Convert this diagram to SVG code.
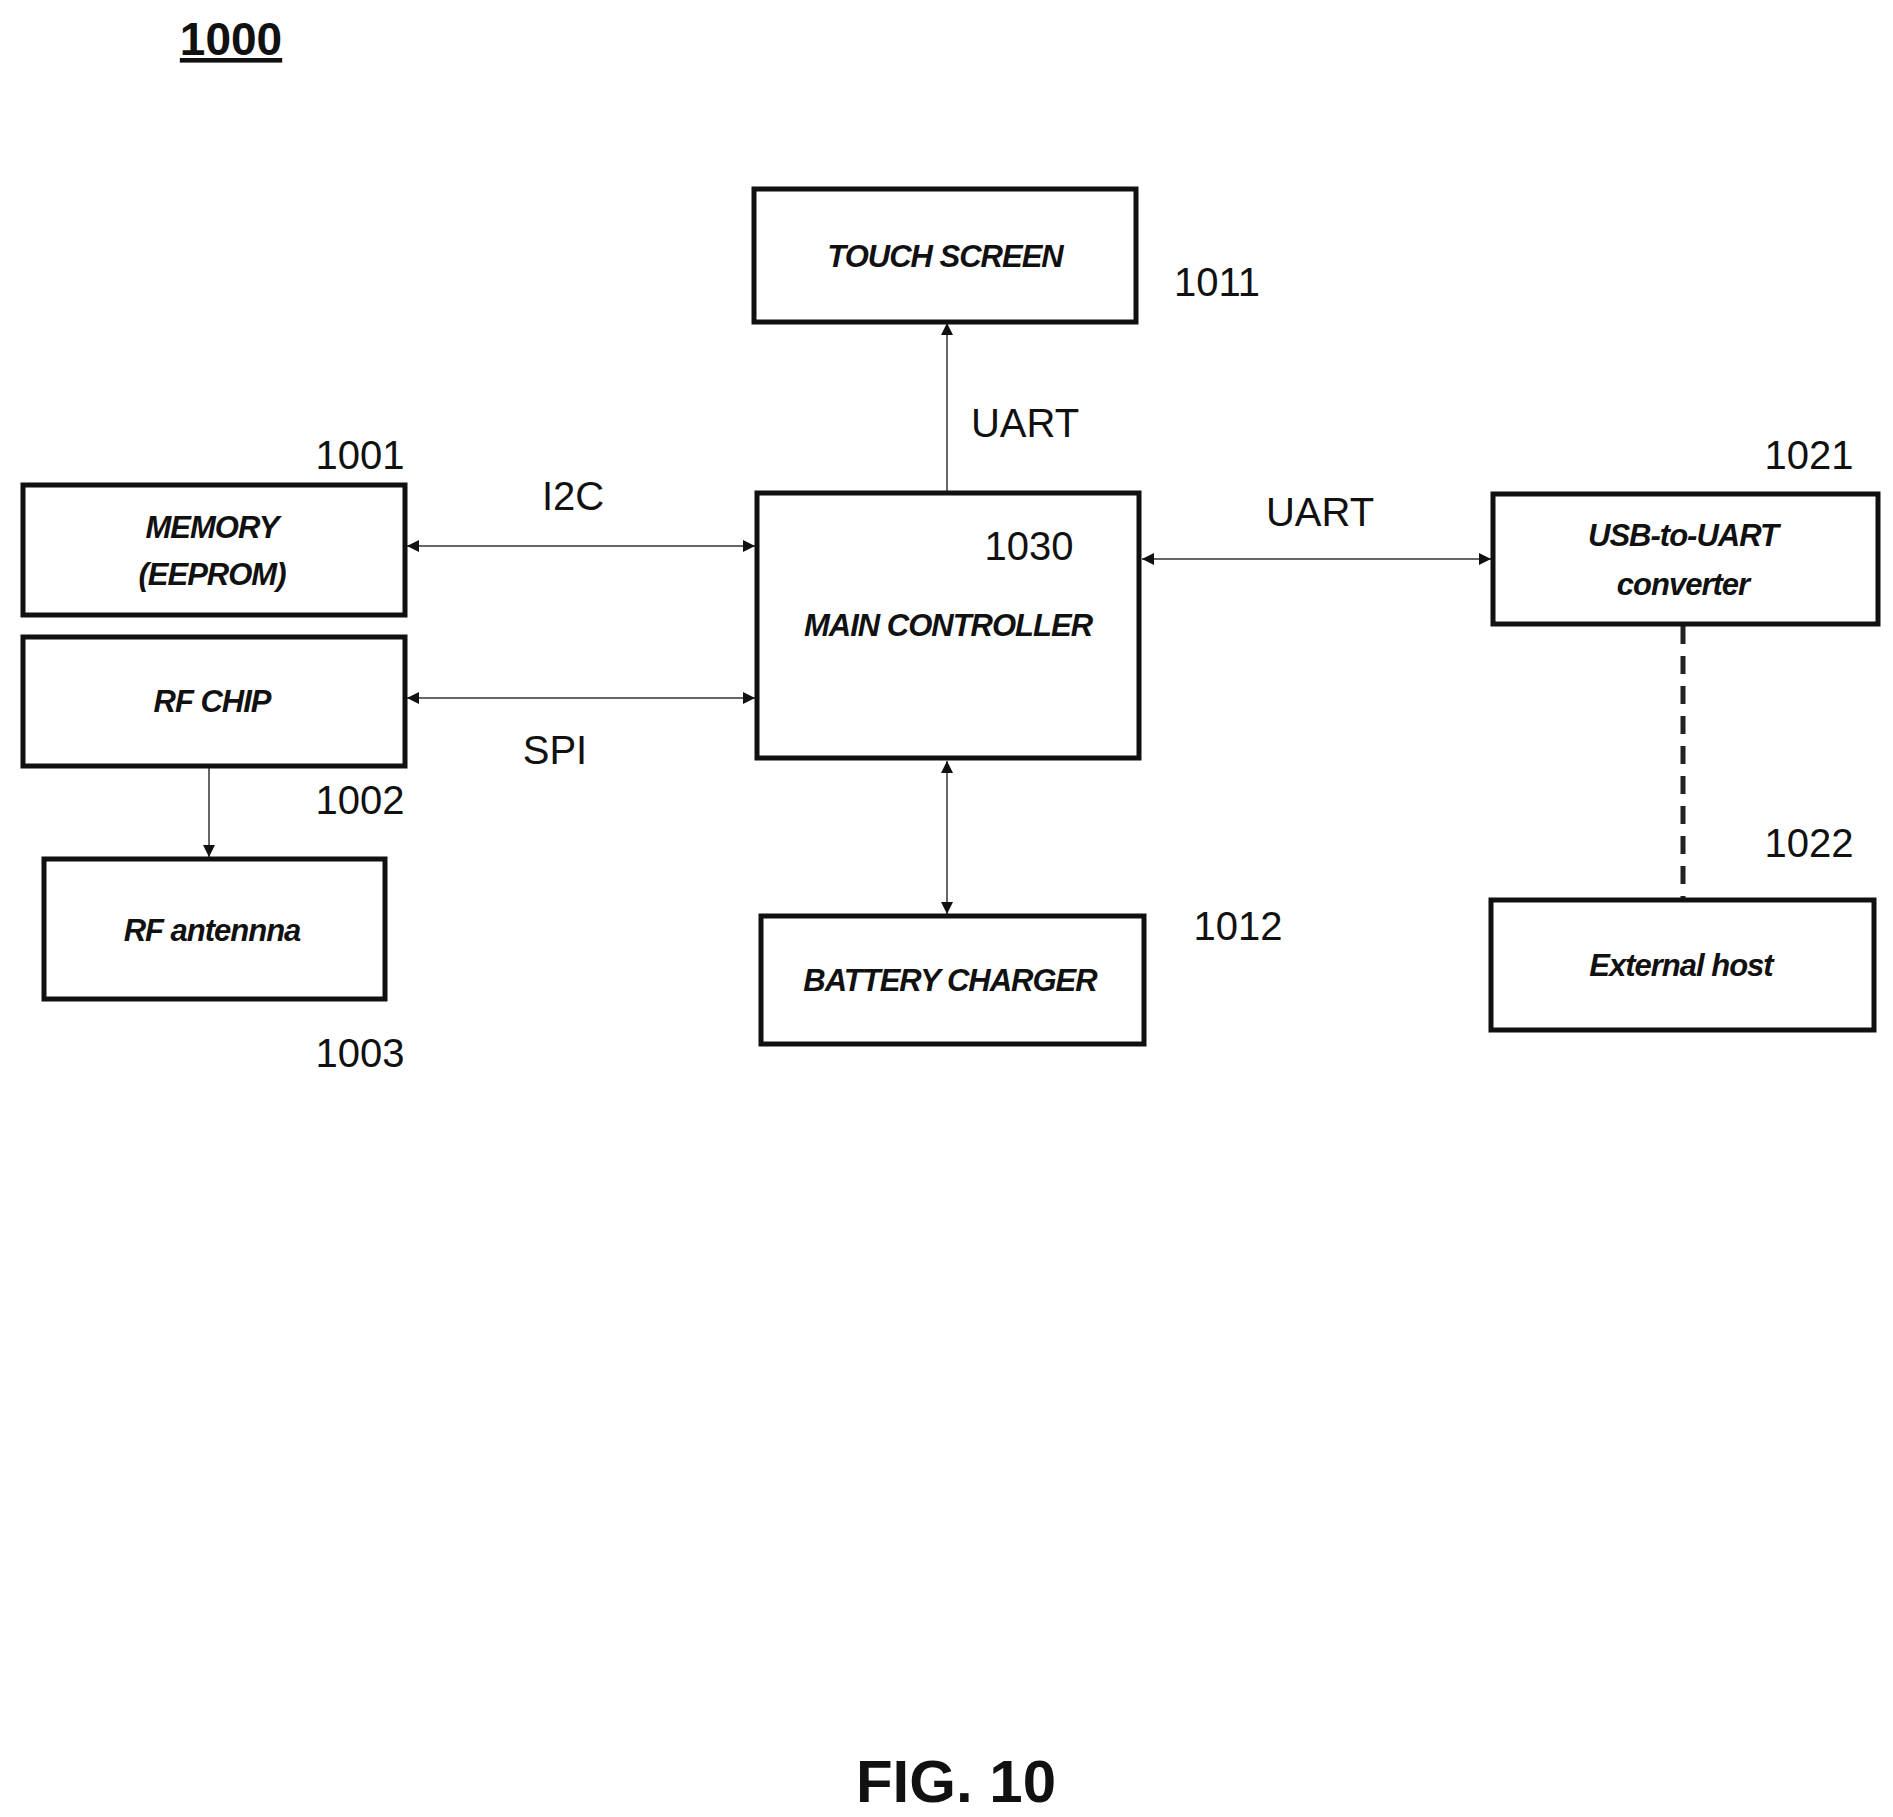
<svg xmlns="http://www.w3.org/2000/svg" width="1893" height="1817" viewBox="0 0 1893 1817">
<style>
.box{fill:#fff;stroke:#111;stroke-width:5}
.t{font-family:"Liberation Sans",Arial,sans-serif;font-weight:bold;font-style:italic;font-size:31px;text-anchor:middle;fill:#111;letter-spacing:-1px}
.n{font-family:"Liberation Sans",Arial,sans-serif;font-size:40px;text-anchor:middle;fill:#111}
.c{stroke:#333;stroke-width:1.5;fill:none}
</style>
<defs>
<marker id="a" viewBox="0 0 10 10" refX="10" refY="5" markerWidth="12" markerHeight="12" markerUnits="userSpaceOnUse" orient="auto-start-reverse"><path d="M0,0L10,5L0,10z" fill="#111"/></marker>
</defs>
<rect width="1893" height="1817" fill="#fff"/>
<text x="231" y="55" style="font-family:'Liberation Sans',Arial,sans-serif;font-weight:bold;font-size:46px;text-anchor:middle;text-decoration:underline" fill="#111">1000</text>
<g id="connectors">
<line class="c" x1="947" y1="491" x2="947" y2="323" marker-end="url(#a)"/>
<line class="c" x1="407" y1="546" x2="755" y2="546" marker-start="url(#a)" marker-end="url(#a)"/>
<line class="c" x1="407" y1="698" x2="755" y2="698" marker-start="url(#a)" marker-end="url(#a)"/>
<line class="c" x1="209" y1="766" x2="209" y2="857" marker-end="url(#a)"/>
<line class="c" x1="947" y1="761" x2="947" y2="914" marker-start="url(#a)" marker-end="url(#a)"/>
<line class="c" x1="1142" y1="559" x2="1491" y2="559" marker-start="url(#a)" marker-end="url(#a)"/>
<line x1="1683" y1="626" x2="1683" y2="900" stroke="#222" stroke-width="5" stroke-dasharray="18,12"/>
<text class="n" x="1025" y="437" font-size="44">UART</text>
<text class="n" x="573" y="510">I2C</text>
<text class="n" x="555" y="764">SPI</text>
<text class="n" x="1320" y="526" font-size="44">UART</text>
</g>
<g id="touch"><rect class="box" x="754" y="189" width="382" height="133"/><text class="t" x="945" y="267">TOUCH SCREEN</text><text class="n" x="1217" y="296">1011</text></g>
<g id="main"><rect class="box" x="757" y="493" width="382" height="265"/><text class="n" x="1029" y="560">1030</text><text class="t" x="948" y="636">MAIN CONTROLLER</text></g>
<g id="memory"><rect class="box" x="23" y="485" width="382" height="130"/><text class="t" x="212" y="538">MEMORY</text><text class="t" x="212" y="585">(EEPROM)</text><text class="n" x="360" y="469">1001</text></g>
<g id="rfchip"><rect class="box" x="23" y="637" width="382" height="129"/><text class="t" x="212" y="712">RF CHIP</text><text class="n" x="360" y="814">1002</text></g>
<g id="antenna"><rect class="box" x="44" y="859" width="341" height="140"/><text class="t" x="212" y="941" font-style="normal">RF antennna</text><text class="n" x="360" y="1067">1003</text></g>
<g id="battery"><rect class="box" x="761" y="916" width="383" height="128"/><text class="t" x="950" y="991">BATTERY CHARGER</text><text class="n" x="1238" y="940">1012</text></g>
<g id="usb"><rect class="box" x="1493" y="494" width="385" height="130"/><text class="t" x="1683" y="546">USB-to-UART</text><text class="t" x="1683" y="595">converter</text><text class="n" x="1809" y="469">1021</text></g>
<g id="host"><rect class="box" x="1491" y="900" width="383" height="130"/><text class="t" x="1681" y="976">External host</text><text class="n" x="1809" y="857">1022</text></g>
<text x="956" y="1802" style="font-family:'Liberation Sans',Arial,sans-serif;font-weight:bold;font-size:60px;text-anchor:middle" fill="#111">FIG. 10</text>
</svg>
